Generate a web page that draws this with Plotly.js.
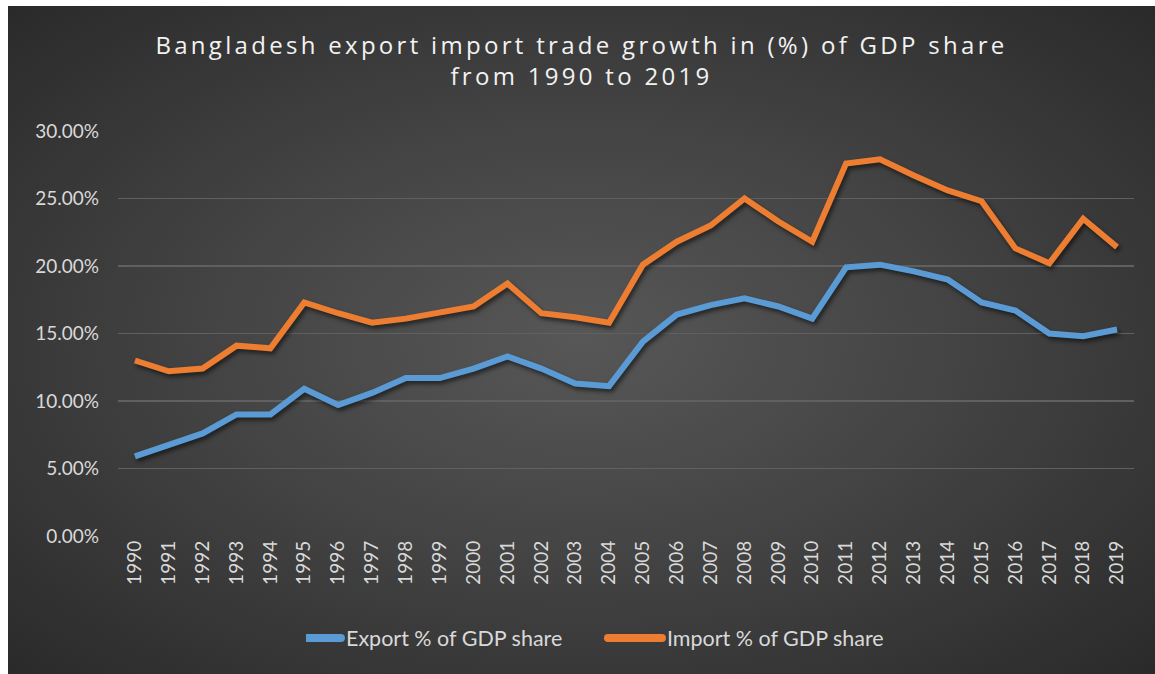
<!DOCTYPE html>
<html>
<head>
<meta charset="utf-8">
<script src="https://cdn.plot.ly/plotly-3.0.1.min.js"></script>
<style>
  html, body { margin: 0; padding: 0; background: #ffffff; }
  #chart {
    position: absolute; left: 8px; top: 6px; width: 1147px; height: 668px;
    background: radial-gradient(ellipse at 50% 50%, #575757 0%, #444444 45%, #2a2a2a 100%);
  }
  .gtitle { letter-spacing: 3.3px; }
  .scatterlayer .trace path.js-line { filter: drop-shadow(2px 3px 2px rgba(0,0,0,0.55)); }
</style>
</head>
<body>
<div id="chart"></div>
<script>
const years = ["1990","1991","1992","1993","1994","1995","1996","1997","1998","1999",
  "2000","2001","2002","2003","2004","2005","2006","2007","2008","2009",
  "2010","2011","2012","2013","2014","2015","2016","2017","2018","2019"];
const exportShare = [5.9, 6.7, 7.6, 9.0, 9.0, 10.9, 9.7, 10.6, 11.7, 11.7,
  12.4, 13.3, 12.4, 11.3, 11.1, 14.4, 16.4, 17.1, 17.6, 17.0,
  16.1, 19.9, 20.1, 19.6, 19.0, 17.3, 16.7, 15.0, 14.8, 15.3];
const importShare = [13.0, 12.2, 12.4, 14.1, 13.9, 17.3, 16.5, 15.8, 16.1, 16.6,
  17.0, 18.7, 16.5, 16.2, 15.8, 20.1, 21.8, 23.0, 25.0, 23.3,
  21.8, 27.6, 27.9, 26.7, 25.6, 24.8, 21.3, 20.2, 23.5, 21.4];
const yTickVals = [0, 5, 10, 15, 20, 25, 30];
const yTickText = ["0.00%", "5.00%", "10.00%", "15.00%", "20.00%", "25.00%", "30.00%"];
const seriesNames = ["Export % of GDP share", "Import % of GDP share"];

const tickFont = { family: "Lato, 'Noto Sans', sans-serif", size: 19, color: "#d9d9d9" };

const traces = [
  { x: years, y: exportShare, name: seriesNames[0], type: "scatter", mode: "lines",
    line: { color: "#5b9bd5", width: 6 } },
  { x: years, y: importShare, name: seriesNames[1], type: "scatter", mode: "lines",
    line: { color: "#ed7d31", width: 6 } }
];

const layout = {
  width: 1147, height: 668,
  paper_bgcolor: "rgba(0,0,0,0)", plot_bgcolor: "rgba(0,0,0,0)",
  margin: { l: 110, r: 21, t: 125, b: 138 },
  title: {
    text: "Bangladesh export import trade growth in (%) of GDP share<br>from 1990 to 2019",
    font: { family: "'Open Sans', sans-serif", size: 24, color: "#f2f2f2" },
    x: 0.5, xref: "container", xanchor: "center",
    y: 0.928, yref: "container", yanchor: "top"
  },
  xaxis: {
    type: "category", tickangle: -90, tickfont: tickFont,
    showgrid: false, zeroline: false, showline: false, ticks: "",
    range: [-0.5, 29.5]
  },
  yaxis: {
    range: [0, 30], tickvals: yTickVals, ticktext: yTickText, tickfont: tickFont,
    showgrid: true, gridcolor: "#606060", gridwidth: 1.5, zeroline: false,
    showline: false, ticks: "", ticklabelstandoff: 18
  },
  showlegend: true,
  legend: {
    orientation: "h", x: 0.185, xanchor: "left", y: -0.252, yanchor: "middle",
    font: { family: "Lato, 'Noto Sans', sans-serif", size: 21.5, color: "#d9d9d9" },
    bgcolor: "rgba(0,0,0,0)", itemwidth: 30, entrywidth: 276, entrywidthmode: "pixels"
  },
  hovermode: false
};

function styleLegendKeys(gd) {
  gd.querySelectorAll("g.legendlines path").forEach(function (p) {
    p.setAttribute("d", "M-19,0h54");
    p.style.strokeWidth = "8px";
    p.style.strokeLinecap = "round";
  });
}

const gd = document.getElementById("chart");
Plotly.newPlot(gd, traces, layout, { displayModeBar: false, staticPlot: true }).then(function () {
  styleLegendKeys(gd);
  gd.on("plotly_afterplot", function () { styleLegendKeys(gd); });
  setTimeout(function () { styleLegendKeys(gd); }, 50);
  setTimeout(function () { styleLegendKeys(gd); }, 300);
});
</script>
</body>
</html>
